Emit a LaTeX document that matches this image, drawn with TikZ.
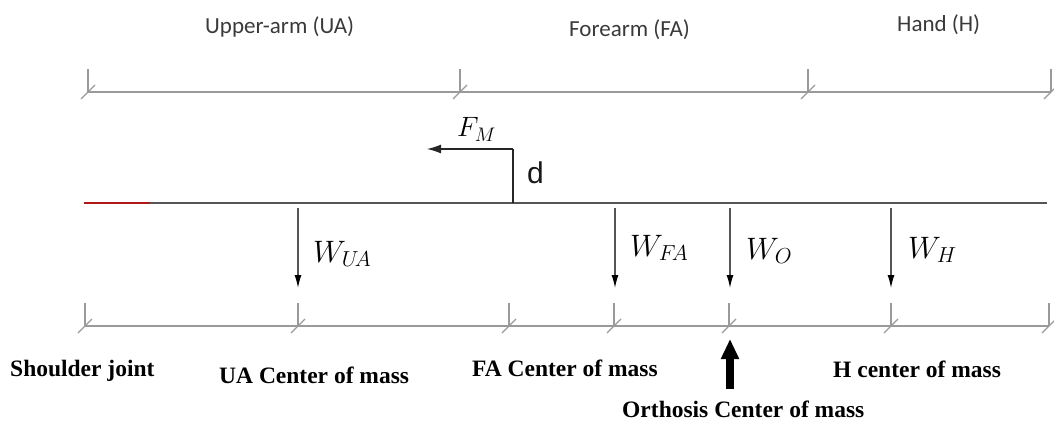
\RequirePackage{fix-cm}
\documentclass[tikz,border=0pt]{standalone}
\usepackage{fontspec}
\usetikzlibrary{arrows.meta}
\newfontfamily\topfont{Carlito}
\newfontfamily\botfont{Liberation Serif}
\newfontfamily\dfont{Liberation Sans}
\definecolor{dimgray}{HTML}{9A9A9A}
\definecolor{beamgray}{HTML}{555555}
\definecolor{beamred}{HTML}{B01818}
\definecolor{toptext}{HTML}{3A3A3A}
\tikzset{
  dimline/.style={draw=dimgray, line width=1.8pt},
  tickline/.style={draw=dimgray, line width=1.3pt},
  beamline/.style={draw=beamgray, line width=2.2pt},
  wforce/.style={draw=beamgray, line width=1.3pt, -{Latex[length=13pt,width=7pt,color=black]}},
  fmforce/.style={draw=black!85, line width=1.3pt, -{Latex[length=14pt,width=9pt]}},
  orthforce/.style={draw=black, line width=8pt, -{Triangle[length=20pt,width=17pt]}},
  toplabel/.style={inner sep=0pt, anchor=base west, text=toptext, font=\topfont\fontsize{23}{23}\selectfont},
  botlabel/.style={inner sep=0pt, anchor=base west, text=black, font=\botfont\bfseries\fontsize{23.5}{23.5}\selectfont},
  wlabel/.style={inner sep=0pt, anchor=base west, font=\fontsize{31}{31}\selectfont},
}
\begin{document}
\begin{tikzpicture}[x=1pt,y=-1pt]
\useasboundingbox (0,0) rectangle (1054,422);
% top dimension line
\foreach \n/\x in {t1/88,t2/460,t3/808,t4/1051}{\coordinate (\n) at (\x,92);}
\draw[dimline] (t1) -- (t4);
\foreach \n in {t1,t2,t3,t4}{
  \draw[tickline] (\n) -- ++(0,-23);
  \draw[tickline] (\n) ++(-7,7) -- ++(14,-14);
}
% bottom dimension line
\foreach \n/\x in {b1/85,b2/298,b3/509,b4/614,b5/729,b6/891,b7/1049}{\coordinate (\n) at (\x,326);}
\draw[dimline] (b1) -- (b7);
\foreach \n in {b1,b2,b3,b4,b5,b6,b7}{
  \draw[tickline] (\n) -- ++(0,-23);
  \draw[tickline] (\n) ++(-7,7) -- ++(14,-14);
}
% top labels
\node[toplabel] (lua) at (205,34) {Upper-arm (UA)};
\node[toplabel] (lfa) at (569,37) {Forearm (FA)};
\node[toplabel] (lh)  at (897,32) {Hand (H)};
% beam
\coordinate (beamL) at (84,203);
\coordinate (redEnd) at (150,203);
\coordinate (beamR) at (1047,203);
\draw[beamline] (redEnd) -- (beamR);
\draw[draw=beamred, line width=2.2pt] (beamL) -- (redEnd);
% muscle force
\coordinate (fmBase) at (513,203);
\coordinate (fmCorner) at (513,149);
\coordinate (fmTip) at (427,149);
\draw[draw=black!85, line width=1.3pt] (fmBase) -- (fmCorner);
\draw[fmforce] (fmCorner) -- (fmTip);
\node[wlabel, font=\fontsize{28}{28}\selectfont] (fm) at (457,137) {$F_M$};
\node[inner sep=0pt, anchor=base west, font=\dfont\fontsize{30}{30}\selectfont, text=black!90] (dlab) at (527,184) {d};
% weights
\foreach \n/\x in {ua/298,fa/615,o/730,h/891}{
  \coordinate (\n S) at (\x,208);
  \coordinate (\n E) at (\x,288);
  \draw[wforce] (\n S) -- (\n E);
}
\node[wlabel] (wua) at (313,262) {$W_{U\!A}$};
\node[wlabel] (wfa) at (630,256) {$W_{F\!A}$};
\node[wlabel] (wo)  at (746,259) {$W_O$};
\node[wlabel] (wh)  at (908,258) {$W_H$};
% orthosis arrow
\coordinate (orthS) at (730,389);
\coordinate (orthE) at (730,339);
\draw[orthforce] (orthS) -- (orthE);
% bottom labels
\node[botlabel] (sj)  at (10,376) {Shoulder joint};
\node[botlabel] (uac) at (219,383) {UA Center of mass};
\node[botlabel] (fac) at (472,376) {FA Center of mass};
\node[botlabel] (hc)  at (833,377) {H center of mass};
\node[botlabel] (oc)  at (622,417) {Orthosis Center of mass};
\end{tikzpicture}
\end{document}
